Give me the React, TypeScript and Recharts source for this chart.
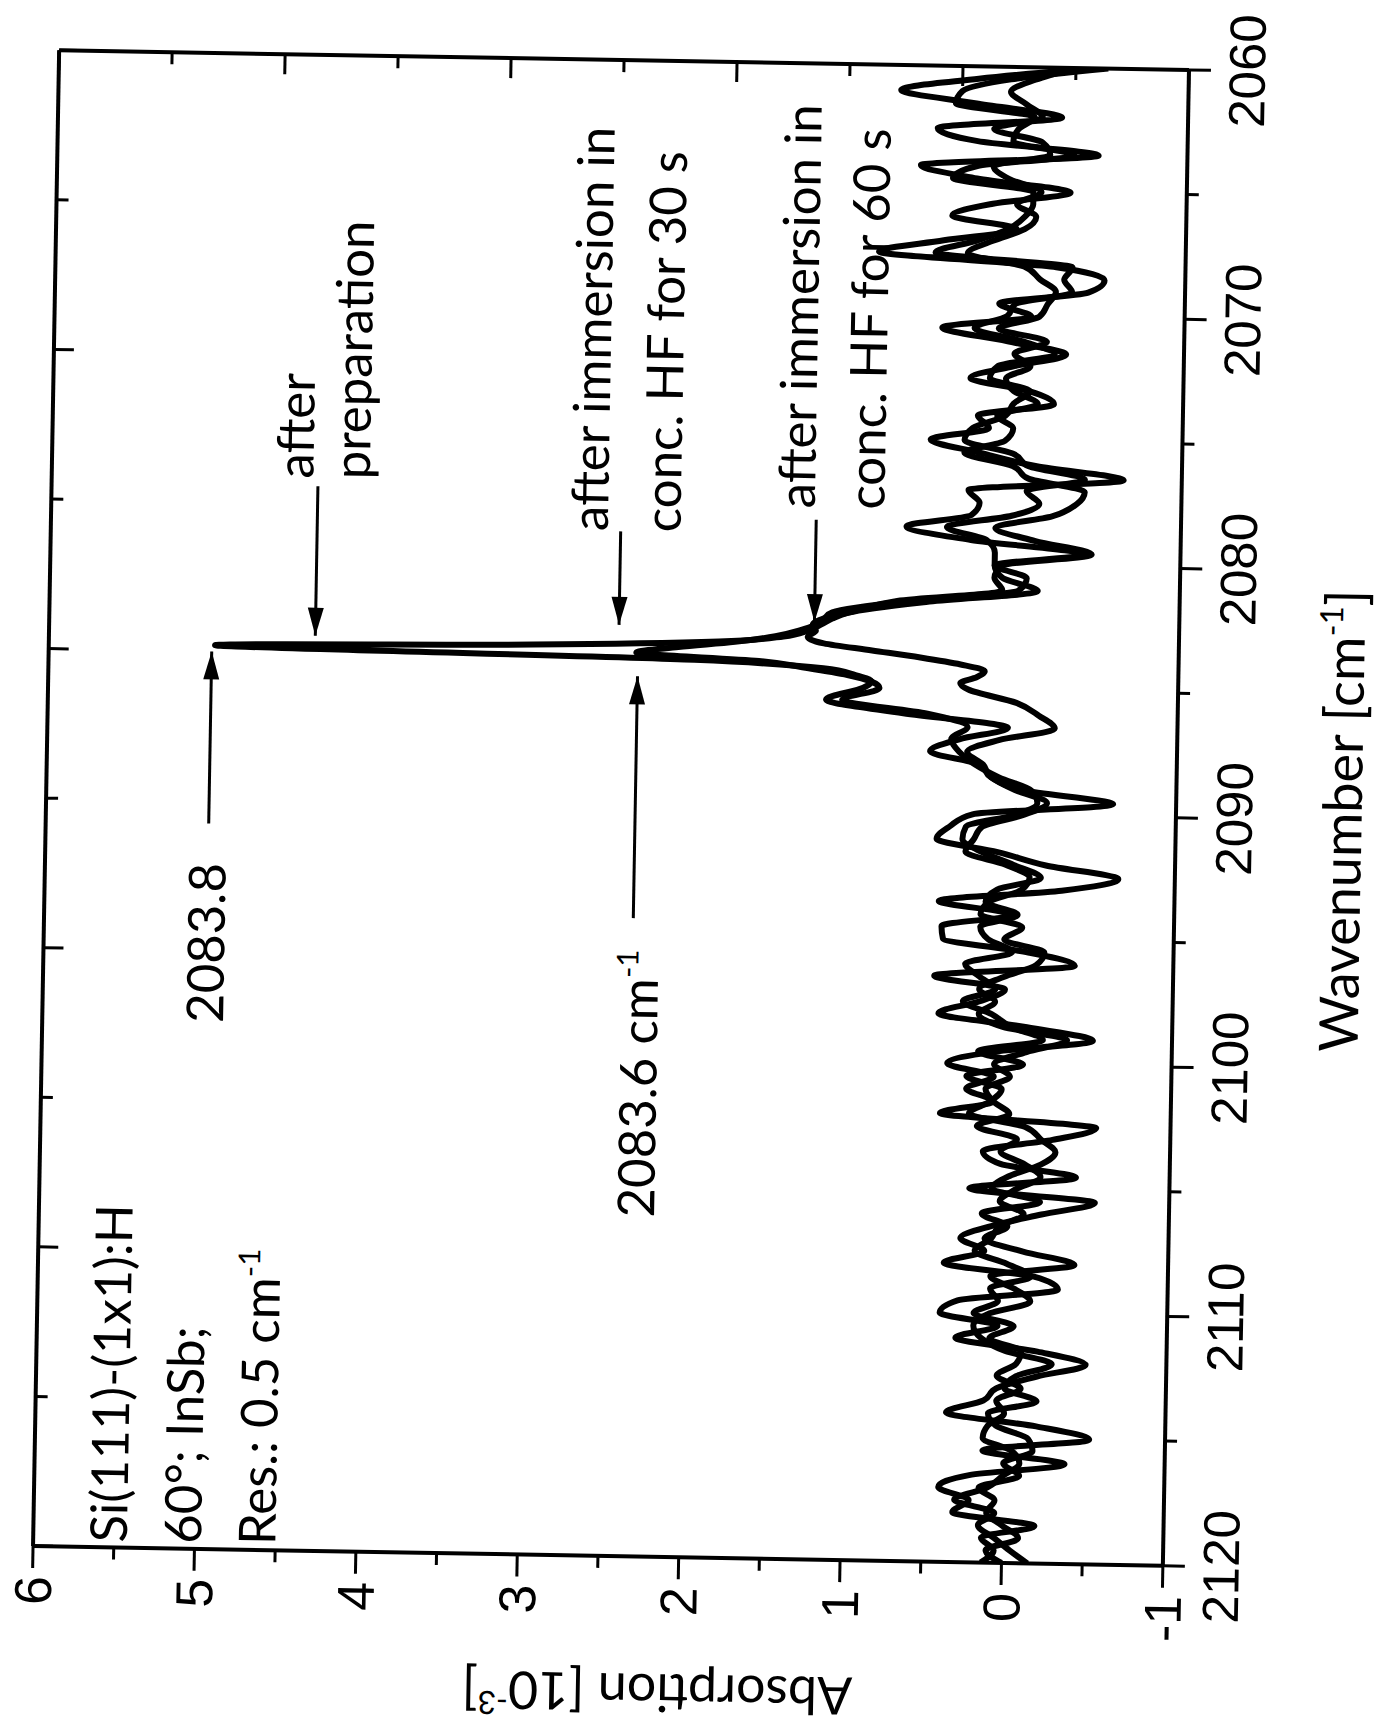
import React from 'react';
import { LineChart, Line, XAxis, YAxis, ReferenceLine, ReferenceDot } from 'recharts';

// wavenumber grid [cm-1], 0.25 steps across the Si-H stretch peak
const wavenumbers = [
  2060, 2060.5, 2061, 2061.5, 2062, 2062.5, 2063, 2063.5, 2064, 2064.5,
  2065, 2065.5, 2066, 2066.5, 2067, 2067.5, 2068, 2068.5, 2069, 2069.5,
  2070, 2070.5, 2071, 2071.5, 2072, 2072.5, 2073, 2073.5, 2074, 2074.5,
  2075, 2075.5, 2076, 2076.5, 2077, 2077.5, 2078, 2078.5, 2079, 2079.5,
  2080, 2080.5, 2081, 2081.5, 2082,
  2082.25, 2082.5, 2082.75, 2083, 2083.25, 2083.5, 2083.75, 2084, 2084.25, 2084.5, 2084.75, 2085,
  2085.5, 2086, 2086.5, 2087, 2087.5, 2088, 2088.5, 2089, 2089.5, 2090,
  2090.5, 2091, 2091.5, 2092, 2092.5, 2093, 2093.5, 2094, 2094.5, 2095,
  2095.5, 2096, 2096.5, 2097, 2097.5, 2098, 2098.5, 2099, 2099.5, 2100,
  2100.5, 2101, 2101.5, 2102, 2102.5, 2103, 2103.5, 2104, 2104.5, 2105,
  2105.5, 2106, 2106.5, 2107, 2107.5, 2108, 2108.5, 2109, 2109.5, 2110,
  2110.5, 2111, 2111.5, 2112, 2112.5, 2113, 2113.5, 2114, 2114.5, 2115,
  2115.5, 2116, 2116.5, 2117, 2117.5, 2118, 2118.5, 2119, 2119.5, 2120,
];

// absorption [10^-3]
const afterPreparation = [
  -0.40, 0.30, 0.78, 0.30, -0.22, 0.55, 0.30, -0.45, 0.65, 0.30,
  -0.28, 0.20, 0.45, 0.05, 0.50, 0.90, -0.20, -0.50, -0.40, 0.15,
  -0.05, 0.50, 0.10, -0.27, 0.05, 0.32, -0.05, -0.20, 0.27, 0.20,
  0.56, 0.25, -0.10, -0.64, 0.32, 0.25, 0.30, 0.70, 0.30, -0.40,
  0.15, 0.10, -0.12, 0.55, 1.05,
  1.15, 1.22, 1.30, 1.45, 1.85, 3.00, 4.97, 2.00, 1.20, 1.00, 0.90, 0.95,
  1.18, 0.70, 0.05, 0.35, 0.53, 0.22, 0.15, -0.05, -0.61, 0.26,
  0.40, 0.48, 0.10, -0.20, -0.65, -0.30, 0.46, 0.00, 0.44, 0.43,
  -0.10, -0.39, 0.48, 0.04, 0.20, 0.45, -0.10, -0.51, 0.10, 0.39,
  0.10, 0.27, 0.10, 0.43, -0.54, -0.27, 0.16, 0.05, -0.42, 0.24,
  -0.54, -0.21, 0.10, 0.29, 0.14, 0.39, -0.17, -0.32, 0.30, 0.41,
  0.05, 0.31, -0.20, -0.50, -0.20, 0.05, 0.13, 0.36, -0.20, -0.53,
  0.13, -0.38, 0.21, 0.40, 0.21, 0.31, -0.20, 0.13, 0.05, 0.13,
];

const afterHf30s = [
  -0.50, 0.10, 0.40, 0.44, -0.05, 0.05, 0.08, -0.30, 0.30, 0.45,
  -0.05, -0.05, 0.00, 0.10, 0.30, 0.55, -0.30, -0.25, -0.30, 0.05,
  0.10, 0.30, 0.00, -0.20, 0.15, 0.20, -0.05, 0.05, 0.10, 0.30,
  0.35, 0.05, -0.05, -0.40, -0.04, -0.12, 0.05, 0.45, 0.20, 0.15,
  0.15, -0.05, 0.00, 0.70, 1.15,
  1.20, 1.25, 1.35, 1.50, 1.75, 2.10, 2.36, 1.60, 1.30, 1.05, 0.90, 0.85,
  1.08, 0.55, 0.30, 0.40, 0.35, 0.25, 0.10, -0.10, -0.14, 0.00,
  0.30, 0.32, 0.20, 0.00, -0.17, 0.10, 0.17, -0.03, 0.20, 0.15,
  0.00, 0.29, 0.20, 0.10, 0.30, 0.12, 0.00, -0.20, 0.20, -0.08,
  0.27, 0.05, 0.12, 0.25, -0.10, -0.20, -0.29, -0.20, 0.00, 0.10,
  -0.20, 0.16, 0.00, 0.14, -0.10, -0.42, 0.10, -0.05, -0.15, 0.10,
  0.20, 0.15, 0.00, -0.29, -0.07, 0.00, -0.20, 0.10, 0.05, -0.15,
  -0.18, 0.00, -0.10, 0.15, 0.05, 0.10, 0.00, -0.10, 0.10, 0.00,
];

const afterHf60s = [
  -0.30, -0.05, 0.10, 0.00, -0.10, 0.20, -0.10, -0.15, 0.20, 0.10,
  -0.10, 0.05, -0.07, 0.00, 0.20, 0.35, 0.00, -0.10, -0.20, -0.15,
  -0.10, 0.15, -0.15, 0.05, -0.05, 0.10, 0.05, -0.10, 0.15, 0.05,
  0.10, 0.35, 0.05, -0.05, -0.40, -0.35, -0.20, 0.15, -0.10, -0.45,
  0.10, 0.15, 0.10, 0.75, 1.05,
  1.20, 1.27, 1.25, 1.30, 1.20, 0.90, 0.60, 0.35, 0.20, 0.25, 0.35, 0.30,
  0.00, -0.14, -0.24, 0.10, 0.30, 0.20, 0.15, 0.00, -0.20, -0.05,
  0.20, 0.25, 0.30, 0.05, -0.10, -0.05, 0.15, 0.20, -0.06, 0.05,
  -0.20, -0.15, 0.05, 0.20, 0.10, 0.20, 0.05, -0.35, -0.10, 0.10,
  0.00, 0.15, 0.10, 0.00, 0.20, -0.05, 0.05, -0.10, -0.20, -0.05,
  0.05, -0.10, 0.05, 0.10, 0.20, 0.00, -0.15, 0.10, 0.05, 0.20,
  -0.05, 0.10, -0.10, -0.07, 0.05, -0.10, 0.05, 0.00, 0.10, 0.13,
  -0.05, -0.10, 0.00, 0.10, 0.30, 0.05, 0.15, 0.05, -0.05, -0.16,
];

const wnTicks = [2060, 2065, 2070, 2075, 2080, 2085, 2090, 2095, 2100, 2105, 2110, 2115, 2120];
const absTicks = [-1, -0.5, 0, 0.5, 1, 1.5, 2, 2.5, 3, 3.5, 4, 4.5, 5, 5.5, 6];
// the mirrored frame sides carry their own 10-step tick scale
const topTicks = [2060, 2066, 2072, 2078, 2084, 2090, 2096, 2102, 2108, 2114, 2120];
const rightTicks = [-1, -0.3, 0.4, 1.1, 1.8, 2.5, 3.2, 3.9, 4.6, 5.3, 6];

// arrows pointing at the peaks: y level, tail and tip wavenumber
const arrows = [
  { y: 4.35, from: 2077.3, to: 2083.3 },
  { y: 4.99, from: 2090.9, to: 2084.0 },
  { y: 2.47, from: 2078.9, to: 2082.65 },
  { y: 2.35, from: 2094.4, to: 2084.7 },
  { y: 1.26, from: 2078.3, to: 2082.4 },
];

const notes = [
  { x: 2077.0, y: 4.38, text: 'after', sup: '' },
  { x: 2077.0, y: 4.03, text: 'preparation', sup: '' },
  { x: 2078.9, y: 2.55, text: 'after immersion in', sup: '' },
  { x: 2078.9, y: 2.10, text: 'conc. HF for 30 s', sup: '' },
  { x: 2077.85, y: 1.27, text: 'after immersion in', sup: '' },
  { x: 2077.85, y: 0.84, text: 'conc. HF for 60 s', sup: '' },
  { x: 2098.9, y: 4.88, text: '2083.8', sup: '' },
  { x: 2106.4, y: 2.19, text: '2083.6 cm', sup: '-1' },
  { x: 2119.8, y: 5.42, text: 'Si(111)-(1x1):H', sup: '' },
  { x: 2119.8, y: 4.96, text: '60°; InSb;', sup: '' },
  { x: 2119.8, y: 4.5, text: 'Res.: 0.5 cm', sup: '-1' },
];

const data = wavenumbers.map((wn, i) => ({
  wn,
  prep: afterPreparation[i],
  hf30: afterHf30s[i],
  hf60: afterHf60s[i],
}));

const FONT_NUM = '"Liberation Sans", Arial, sans-serif';
const FONT_TEXT = 'Lato, "Liberation Sans", sans-serif';

// plot box (before rotation) and axis bands
const PW = 1496;
const PH = 1130;
const ML = 175;
const MR = 90; // room for the end tick label, the svg clips its overflow
const MT = 30;
const MB = 210;
const W = ML + PW + MR;
const H = MT + PH + MB;
const CX = ML + PW / 2;
const CY = MT + PH / 2;
// where the plot centre sits on the page, and the scan's tilt
const PAGE_CX = 610.5;
const PAGE_CY = 807.5;
const ROTATE = -89;

function WnTick(props: any) {
  const { x, y, payload } = props;
  const major = payload.value % 10 === 0;
  return (
    <g>
      <line x1={x} y1={y} x2={x} y2={y + (major ? 22 : 12)} stroke="#000" strokeWidth={3} />
      {major && (
        <text x={x} y={y + 76} textAnchor="middle" fontSize={51} fontFamily={FONT_NUM} fill="#000">
          {payload.value}
        </text>
      )}
    </g>
  );
}

function AbsTick(props: any) {
  const { x, y, payload } = props;
  const major = Number.isInteger(payload.value);
  return (
    <g>
      <line x1={x} y1={y} x2={x - (major ? 22 : 12)} y2={y} stroke="#000" strokeWidth={3} />
      {major && (
        <text x={x - 30} y={y} dy="0.36em" textAnchor="end" fontSize={52} fontFamily={FONT_NUM} fill="#000">
          {payload.value}
        </text>
      )}
    </g>
  );
}

function TopTick(props: any) {
  const { x, y, payload } = props;
  const k = Math.round((payload.value - 2060) / 6);
  const len = k % 2 === 0 ? 20 : 12;
  return <line x1={x} y1={y} x2={x} y2={y + len} stroke="#000" strokeWidth={3} />;
}

function RightTick(props: any) {
  const { x, y, payload } = props;
  const k = Math.round((payload.value + 1) / 0.7);
  const len = k % 2 === 0 ? 20 : 12;
  return <line x1={x} y1={y} x2={x - len} y2={y} stroke="#000" strokeWidth={3} />;
}

export default function App() {
  return (
    <div
      style={{
        position: 'absolute',
        left: 0,
        top: 0,
        width: 1379,
        height: 1732,
        overflow: 'hidden',
        background: '#fff',
        fontFamily: FONT_TEXT,
      }}
    >
      <div
        style={{
          position: 'absolute',
          left: PAGE_CX - CX,
          top: PAGE_CY - CY,
          width: W,
          height: H,
          transformOrigin: `${CX}px ${CY}px`,
          transform: `rotate(${ROTATE}deg)`,
        }}
      >
        <LineChart width={W} height={H} data={data} margin={{ top: 0, right: 0, bottom: 0, left: 0 }}>
          <XAxis
            xAxisId="wn"
            dataKey="wn"
            type="number"
            domain={[2060, 2120]}
            allowDataOverflow
            reversed
            ticks={wnTicks}
            interval={0}
            tickSize={0}
            tickMargin={0}
            tickLine={false}
            axisLine={{ stroke: '#000', strokeWidth: 4 }}
            tick={(p: any) => <WnTick {...p} />}
            height={MB}
          />
          <XAxis
            xAxisId="top"
            orientation="top"
            dataKey="wn"
            type="number"
            domain={[2060, 2120]}
            allowDataOverflow
            reversed
            ticks={topTicks}
            interval={0}
            tickSize={0}
            tickMargin={0}
            tickLine={false}
            axisLine={{ stroke: '#000', strokeWidth: 4 }}
            tick={(p: any) => <TopTick {...p} />}
            height={MT}
          />
          <YAxis
            yAxisId="abs"
            type="number"
            domain={[-1, 6]}
            allowDataOverflow
            ticks={absTicks}
            interval={0}
            tickSize={0}
            tickMargin={0}
            tickLine={false}
            axisLine={{ stroke: '#000', strokeWidth: 4 }}
            tick={(p: any) => <AbsTick {...p} />}
            width={ML}
          />
          <YAxis
            yAxisId="right"
            orientation="right"
            dataKey="prep"
            type="number"
            domain={[-1, 6]}
            allowDataOverflow
            ticks={rightTicks}
            interval={0}
            tickSize={0}
            tickMargin={0}
            tickLine={false}
            axisLine={{ stroke: '#000', strokeWidth: 4 }}
            tick={(p: any) => <RightTick {...p} />}
            width={MR}
          />

          <Line xAxisId="wn" yAxisId="abs" type="monotone" dataKey="prep" stroke="#000" strokeWidth={6} dot={false} isAnimationActive={false} />
          <Line xAxisId="wn" yAxisId="abs" type="monotone" dataKey="hf30" stroke="#000" strokeWidth={6} dot={false} isAnimationActive={false} />
          <Line xAxisId="wn" yAxisId="abs" type="monotone" dataKey="hf60" stroke="#000" strokeWidth={6} dot={false} isAnimationActive={false} />

          {arrows.map((a, i) => (
            <ReferenceLine
              key={`shaft-${i}`}
              xAxisId="wn"
              yAxisId="abs"
              segment={[{ x: a.from, y: a.y }, { x: a.to, y: a.y }]}
              stroke="#000"
              strokeWidth={3}
              ifOverflow="visible"
            />
          ))}
          {arrows.map((a, i) => (
            <ReferenceDot
              key={`head-${i}`}
              xAxisId="wn"
              yAxisId="abs"
              x={a.to}
              y={a.y}
              r={1}
              ifOverflow="visible"
              shape={(p: any) => {
                // axis is reversed: a tip at higher wavenumber points left
                const dir = a.to > a.from ? 1 : -1;
                const bx = p.cx + dir * 28;
                return <polygon points={`${p.cx},${p.cy} ${bx},${p.cy - 8} ${bx},${p.cy + 8}`} fill="#000" />;
              }}
            />
          ))}
          {notes.map((n, i) => (
            <ReferenceDot
              key={`note-${i}`}
              xAxisId="wn"
              yAxisId="abs"
              x={n.x}
              y={n.y}
              r={1}
              ifOverflow="visible"
              shape={(p: any) => (
                <text x={p.cx} y={p.cy} fontSize={51} fontFamily={FONT_TEXT} fill="#000">
                  {n.text}
                  {n.sup && (
                    <tspan dy={-20} fontSize={30}>
                      {n.sup}
                    </tspan>
                  )}
                </text>
              )}
            />
          ))}
          {/* axis titles */}
          <ReferenceDot
            xAxisId="wn"
            yAxisId="abs"
            x={2090}
            y={-2.15}
            r={1}
            ifOverflow="visible"
            shape={(p: any) => (
              <text x={p.cx} y={p.cy} textAnchor="middle" fontSize={54} fontFamily={FONT_TEXT} fill="#000">
                Wavenumber [cm
                <tspan dy={-22} fontSize={32}>-1</tspan>
                <tspan dy={22}>]</tspan>
              </text>
            )}
          />
          <ReferenceDot
            xAxisId="wn"
            yAxisId="abs"
            x={2124.7}
            y={2.12}
            r={1}
            ifOverflow="visible"
            shape={(p: any) => (
              <text
                x={p.cx}
                y={p.cy}
                transform={`rotate(-90, ${p.cx}, ${p.cy})`}
                textAnchor="middle"
                fontSize={52}
                fontFamily={FONT_TEXT}
                fill="#000"
              >
                Absorption [10
                <tspan dy={-20} fontSize={32}>-3</tspan>
                <tspan dy={20}>]</tspan>
              </text>
            )}
          />
        </LineChart>
      </div>
    </div>
  );
}
